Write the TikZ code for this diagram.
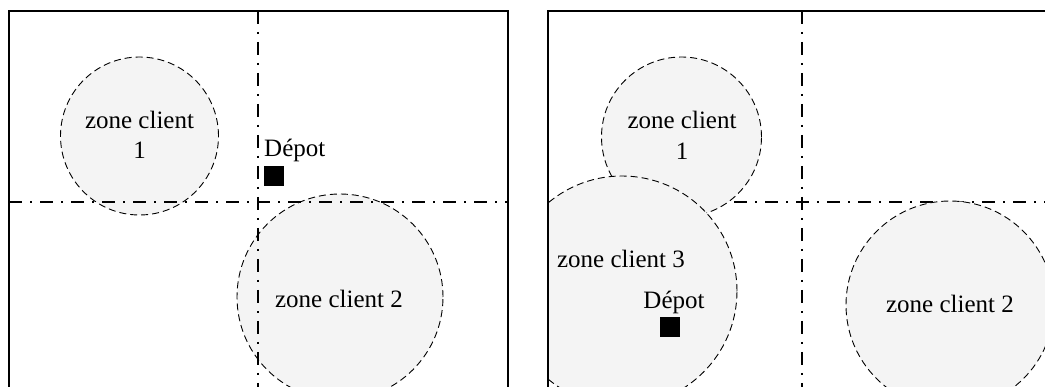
\documentclass[tikz,border=0pt]{standalone}
\usepackage{fontspec}
\setmainfont{Liberation Serif}
\definecolor{zonefill}{RGB}{244,244,244}
\tikzset{
  boxline/.style={line width=1.4pt, line cap=rect},
  axisline/.style={line width=1.4pt, dash pattern=on 13pt off 8pt on 2pt off 8pt},
  zone/.style={circle, draw, fill=zonefill, line width=0.9pt, dash pattern=on 7pt off 4pt, inner sep=0pt},
  depot/.style={rectangle, fill=black, minimum size=20pt, inner sep=0pt},
  lbl/.style={font=\fontsize{25}{30}\selectfont, inner sep=0pt, align=center}
}
\begin{document}
\begin{tikzpicture}[x=1pt, y=-1pt]
\useasboundingbox (0,0) rectangle (1045,387);
\clip (0,0) rectangle (1045,387);

% ---------- left panel ----------
\coordinate (Lbl) at (9,400);
\coordinate (Ltl) at (9,11);
\coordinate (Ltr) at (508,11);
\coordinate (Lbr) at (508,400);
\coordinate (Lvt) at (258,11);
\coordinate (Lvb) at (258,400);
\coordinate (Lhl) at (9,202);
\coordinate (Lhr) at (508,202);

\node[zone, minimum size=158pt] (z1L) at (139.5,136) {};
\node[zone, minimum size=206pt] (z2L) at (340,297) {};
\draw[boxline] (Lbl) -- (Ltl) -- (Ltr) -- (Lbr);
\draw[axisline] (Lvt) -- (Lvb);
\draw[axisline] (Lhl) -- (Lhr);

\node[lbl, anchor=base] (t1L) at (139.5,129) {zone client};
\node[lbl, anchor=base] (t1Lb) at (139.5,159) {1};
\node[lbl, anchor=base] (t2L) at (339,308) {zone client 2};
\node[depot] (dL) at (274,176) {};
\node[lbl, anchor=base west] (dLt) at (264,157) {Dépot};

% ---------- right panel ----------
\coordinate (Rbl) at (548,400);
\coordinate (Rtl) at (548,11);
\coordinate (Rtr) at (1060,11);
\coordinate (Rvt) at (802,11);
\coordinate (Rvb) at (802,400);
\coordinate (Rhl) at (548,202);
\coordinate (Rhr) at (1060,202);

\draw[axisline] (Rvt) -- (Rvb);
\draw[axisline] (Rhl) -- (Rhr);
\begin{scope}
  \clip (548,0) rectangle (1045,387);
  \node[zone, minimum size=160pt] (z1R) at (681.5,137) {};
  \node[zone, minimum size=230pt] (z3R) at (622,291) {};
  \node[zone, minimum size=208pt] (z2R) at (950,305) {};
\end{scope}
\draw[boxline] (Rbl) -- (Rtl) -- (Rtr);

\node[lbl, anchor=base] (t1R) at (682,129) {zone client};
\node[lbl, anchor=base] (t1Rb) at (682,160) {1};
\node[lbl, anchor=base] (t3R) at (621,268) {zone client 3};
\node[lbl, anchor=base] (t2R) at (950,313) {zone client 2};
\node[depot] (dR) at (670,327) {};
\node[lbl, anchor=base] (dRt) at (674,309) {Dépot};
\end{tikzpicture}
\end{document}
